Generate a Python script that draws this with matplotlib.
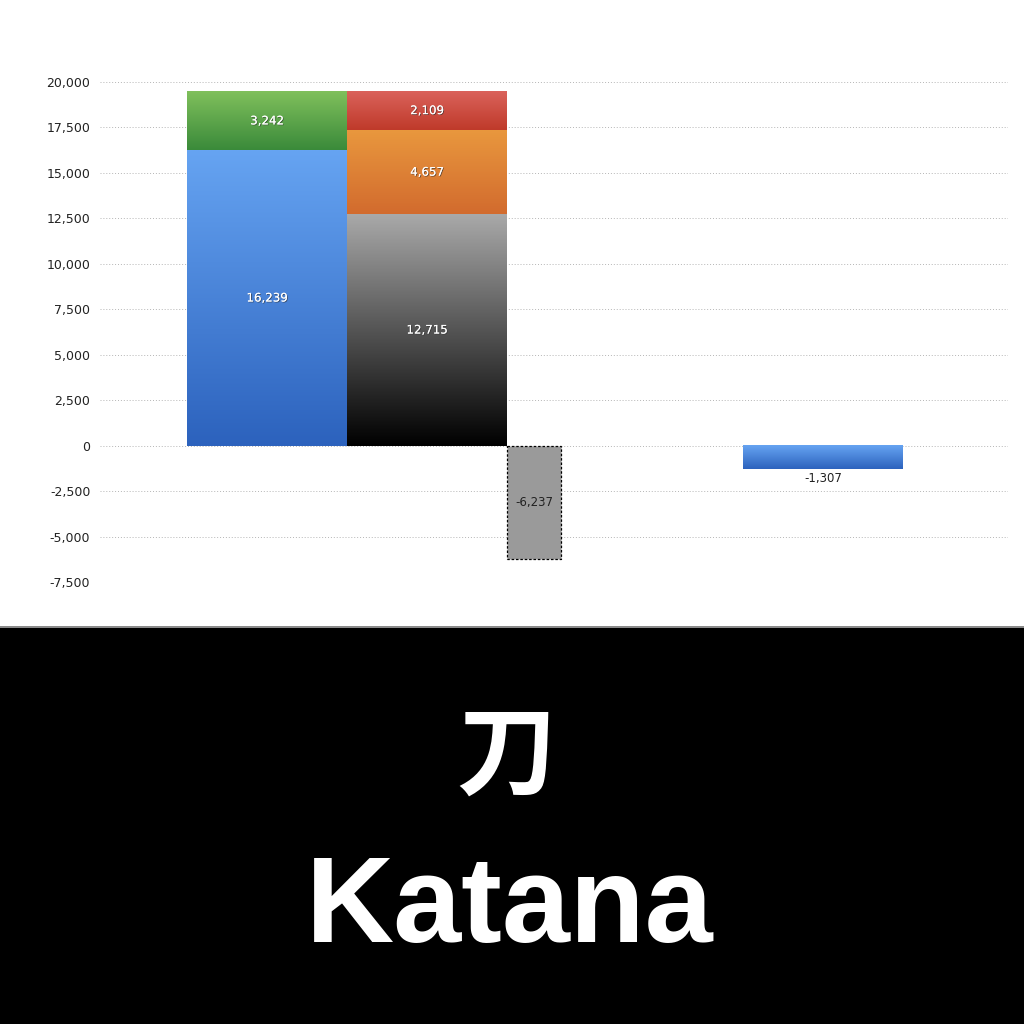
import matplotlib
matplotlib.use("Agg")
import matplotlib.pyplot as plt
import matplotlib.patheffects as pe
from matplotlib.colors import LinearSegmentedColormap
from matplotlib.patches import Rectangle
import numpy as np

# stacked first column
col1_values = [16239, 3242]
col1_colors = [("#2c62bd", "#66a4f2"), ("#3a8a3a", "#80c05c")]
# stacked second column
col2_values = [12715, 4657, 2109]
col2_colors = [("#000000", "#a9a9a9"), ("#d26b2e", "#e9983e"), ("#bf3a2a", "#da625b")]
# narrow negative bar and last bar
neg_value = -6237
last_value = -1307
last_colors = ("#2c62bd", "#66a4f2")

yticks = [-7500, -5000, -2500, 0, 2500, 5000, 7500, 10000, 12500, 15000, 17500, 20000]

# bar layout (x units = one wide bar)
col1_x, col2_x, neg_x, last_x = 0.0, 1.0, 1.669, 3.475
wide_w, neg_w = 1.0, 0.3375


def fmt(v):
    return f"{v:,}"


def grad_bar(ax, x, w, bottom, height, c_bottom, c_top):
    # dark at the bottom edge, light at the top edge
    cmap = LinearSegmentedColormap.from_list("g", [c_bottom, c_top])
    grad = np.linspace(0, 1, 256).reshape(-1, 1)
    lo, hi = sorted([bottom, bottom + height])
    ax.imshow(grad, cmap=cmap, origin="lower", aspect="auto",
              extent=(x - w / 2, x + w / 2, lo, hi), zorder=2, interpolation="bilinear")


shadow = [pe.withSimplePatchShadow(offset=(0.6, -0.6), shadow_rgbFace="#333333", alpha=0.7), pe.Normal()]

fig = plt.figure(figsize=(10.24, 10.24), dpi=100)
fig.patch.set_facecolor("white")
ax = fig.add_axes([100 / 1024, 1 - 582 / 1024, 908 / 1024, 500 / 1024])

bottom = 0
for v, (cb, ct) in zip(col1_values, col1_colors):
    grad_bar(ax, col1_x, wide_w, bottom, v, cb, ct)
    ax.text(col1_x, bottom + v / 2, fmt(v), ha="center", va="center", fontsize=8.5,
            color="white", path_effects=shadow, zorder=4)
    bottom += v

bottom = 0
for v, (cb, ct) in zip(col2_values, col2_colors):
    grad_bar(ax, col2_x, wide_w, bottom, v, cb, ct)
    ax.text(col2_x, bottom + v / 2, fmt(v), ha="center", va="center", fontsize=8.5,
            color="white", path_effects=shadow, zorder=4)
    bottom += v

ax.bar(neg_x, neg_value, width=neg_w, color="#9a9a9a", edgecolor="black",
       linestyle=(0, (2, 1.5)), linewidth=0.9, zorder=2)
ax.text(neg_x, neg_value / 2, fmt(neg_value), ha="center", va="center", fontsize=8.5,
        color="#222222", zorder=4)

grad_bar(ax, last_x, wide_w, 0, last_value, *last_colors)
ax.text(last_x, last_value - 150, fmt(last_value), ha="center", va="top", fontsize=8.5,
        color="#222222", zorder=4)

ax.set_xlim(-1.044, 4.631)
ax.set_ylim(-7500, 20000)
ax.set_yticks(yticks)
ax.set_yticklabels([fmt(t) for t in yticks], fontsize=9, color="#222222")
ax.tick_params(axis="y", length=0, pad=7)
ax.set_xticks([])
ax.yaxis.grid(True, linestyle=(0, (1, 2)), color="#b5b5b5", linewidth=0.7, zorder=0)
ax.set_axisbelow(True)
for s in ax.spines.values():
    s.set_visible(False)
ax.set_facecolor("none")

# black caption band
fig.patches.append(Rectangle((0, 0), 1, 1 - 626 / 1024, transform=fig.transFigure,
                             facecolor="black", edgecolor="none", zorder=-1))
fig.patches.append(Rectangle((0, 1 - 628 / 1024), 1, 2 / 1024, transform=fig.transFigure,
                             facecolor="#8a8a8a", edgecolor="none", zorder=-1))

fig.text(0.494, 1 - 757 / 1024, "刀", ha="center", va="center", color="white",
         fontsize=72, fontweight="bold", family=["Noto Sans CJK JP", "DejaVu Sans"])
fig.text(0.498, 1 - 910 / 1024, "Katana", ha="center", va="center", color="white",
         fontsize=88, fontweight="bold", family=["Liberation Sans", "DejaVu Sans"])

fig.savefig("out.png", dpi=100)
